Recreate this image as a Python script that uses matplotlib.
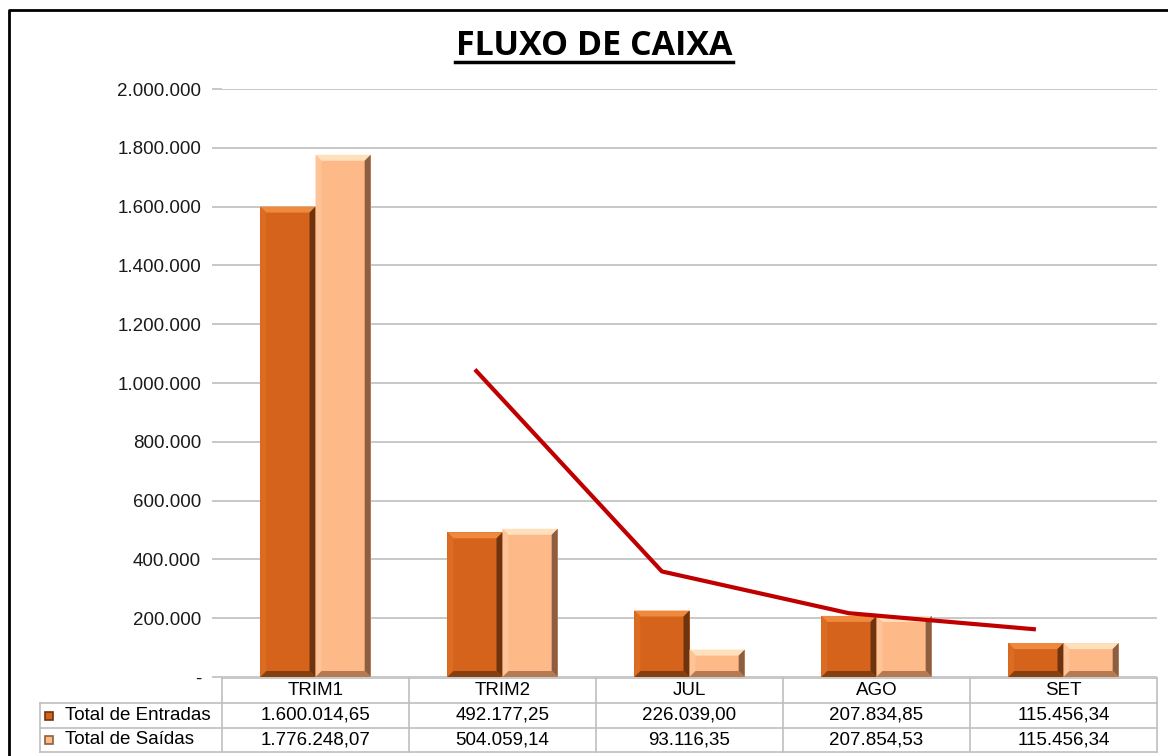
import matplotlib.pyplot as plt
from matplotlib.patches import Polygon
from matplotlib.lines import Line2D

categories = ['TRIM1', 'TRIM2', 'JUL', 'AGO', 'SET']
entradas = [1600014.65, 492177.25, 226039.00, 207834.85, 115456.34]
saidas = [1776248.07, 504059.14, 93116.35, 207854.53, 115456.34]
entradas_txt = ['1.600.014,65', '492.177,25', '226.039,00', '207.834,85', '115.456,34']
saidas_txt = ['1.776.248,07', '504.059,14', '93.116,35', '207.854,53', '115.456,34']
# media movel (2 periodos) de entradas
trend_cats = [1, 2, 3, 4]
trend_vals = [1046000, 359000, 217000, 162000]
yticks = [0, 200000, 400000, 600000, 800000, 1000000, 1200000, 1400000,
          1600000, 1800000, 2000000]

plt.rcParams['font.family'] = ['Liberation Sans', 'DejaVu Sans']

W, H = 1168, 756
fig = plt.figure(figsize=(W / 100, H / 100), dpi=100)

ax_l, ax_r, ax_t, ax_b = 222, 1157, 89, 677
ax = fig.add_axes([ax_l / W, 1 - ax_b / H, (ax_r - ax_l) / W, (ax_b - ax_t) / H])
ax.set_xlim(-0.5, len(categories) - 0.5)
ax.set_ylim(0, 2000000)

# escala px -> dados para o chanfro
px_x = (len(categories)) / (ax_r - ax_l)
px_y = 2000000 / (ax_b - ax_t)
bx, by = 6 * px_x, 6 * px_y

bw = 0.295
c_ent = dict(face='#D5631B', top='#EE8A3E', left='#DC6C22', right='#6E3410', bottom='#86400F')
c_sai = dict(face='#FDBA88', top='#FFE0BD', left='#FEC396', right='#8E5E40', bottom='#B57A52')


def bevel_bar(x0, h, c):
    x1 = x0 + bw
    ax.add_patch(Polygon([(x0, 0), (x1, 0), (x1, h), (x0, h)], closed=True,
                         facecolor=c['face'], edgecolor='none', zorder=3))
    b = min(by, h / 3)
    ax.add_patch(Polygon([(x0, h), (x1, h), (x1 - bx, h - b), (x0 + bx, h - b)],
                         facecolor=c['top'], edgecolor='none', zorder=4))
    ax.add_patch(Polygon([(x0, 0), (x0, h), (x0 + bx, h - b), (x0 + bx, b)],
                         facecolor=c['left'], edgecolor='none', zorder=4))
    ax.add_patch(Polygon([(x1, 0), (x1, h), (x1 - bx, h - b), (x1 - bx, b)],
                         facecolor=c['right'], edgecolor='none', zorder=4))
    ax.add_patch(Polygon([(x0, 0), (x1, 0), (x1 - bx, b), (x0 + bx, b)],
                         facecolor=c['bottom'], edgecolor='none', zorder=4))


for i in range(len(categories)):
    bevel_bar(i - bw, entradas[i], c_ent)
    bevel_bar(i, saidas[i], c_sai)

ax.plot([t - bw / 2 for t in trend_cats], trend_vals, color='#C00000', lw=3,
        zorder=5, solid_capstyle='butt', solid_joinstyle='round')

ax.set_yticks(yticks)
ax.set_yticklabels(['-' if v == 0 else f'{v:,}'.replace(',', '.') for v in yticks],
                   fontsize=13.5, color='#1a1a1a')
ax.yaxis.grid(True, color='#BFBFBF', lw=1.2)
ax.set_axisbelow(True)
ax.tick_params(axis='y', length=7, color='#BFBFBF', width=1.2, pad=8)
ax.set_xticks([])
for s in ax.spines.values():
    s.set_visible(False)

# titulo
fig.text((455 + 733) / 2 / W, 1 - 46 / H, 'FLUXO DE CAIXA', ha='center', va='center',
         fontsize=24.5, fontweight='bold', family=['Open Sans', 'DejaVu Sans'])
fig.add_artist(Line2D([455 / W, 733 / W], [1 - 62 / H] * 2, color='black', lw=2.5))

# borda
fig.add_artist(Line2D([9 / W, 9 / W, 1.0], [0, 1 - 10 / H, 1 - 10 / H], color='black', lw=2))

# tabela de dados
gray = '#BFBFBF'
cols = [222, 409, 596, 783, 970, 1157]
rows = [678, 703, 728, 752]
leg_l = 40


def fx(x):
    return x / W


def fy(y):
    return 1 - y / H


fig.add_artist(Line2D([fx(cols[0]), fx(cols[-1])], [fy(rows[0])] * 2, color=gray, lw=1.2))
for r in rows[1:]:
    fig.add_artist(Line2D([fx(leg_l), fx(cols[-1])], [fy(r)] * 2, color=gray, lw=1.2))
for c in cols:
    fig.add_artist(Line2D([fx(c)] * 2, [fy(rows[0]), fy(rows[-1])], color=gray, lw=1.2))
fig.add_artist(Line2D([fx(leg_l)] * 2, [fy(rows[1]), fy(rows[-1])], color=gray, lw=1.2))

for i, cat in enumerate(categories):
    xc = fx((cols[i] + cols[i + 1]) / 2)
    fig.text(xc, fy((rows[0] + rows[1]) / 2), cat, ha='center', va='center', fontsize=13.5)
    fig.text(xc, fy((rows[1] + rows[2]) / 2), entradas_txt[i], ha='center', va='center', fontsize=13.5)
    fig.text(xc, fy((rows[2] + rows[3]) / 2), saidas_txt[i], ha='center', va='center', fontsize=13.5)

for k, (label, c) in enumerate([('Total de Entradas', c_ent), ('Total de Saídas', c_sai)]):
    yc = (rows[k + 1] + rows[k + 2]) / 2
    fig.patches.append(plt.Rectangle((fx(45), fy(yc + 4)), 8 / W, 8 / H, transform=fig.transFigure,
                                     facecolor=c['face'], edgecolor=c['right'], lw=1.2))
    fig.text(fx(65), fy(yc), label, ha='left', va='center', fontsize=13.5)

fig.savefig('out.png', dpi=100)
